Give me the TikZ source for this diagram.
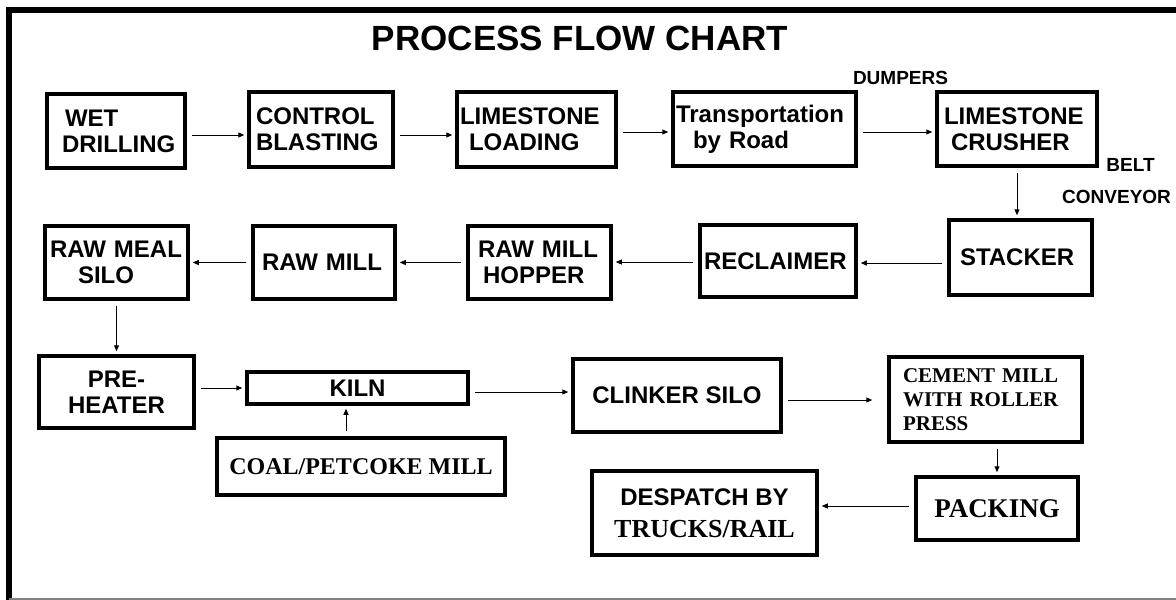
\documentclass[tikz,border=0pt]{standalone}
\usepackage{fontspec}
\setmainfont{Liberation Serif}
\setsansfont{Liberation Sans}
\usetikzlibrary{arrows.meta}

\begin{document}
\begin{tikzpicture}[x=1pt,y=-1pt,
		kasten/.style={draw,line width=3.5pt,inner sep=0pt,align=left,
			font=\sffamily\bfseries\fontsize{24}{26}\selectfont},
		serif/.style={font=\rmfamily\bfseries\fontsize{24}{27}\selectfont},
		beschr/.style={font=\sffamily\bfseries\fontsize{19}{22}\selectfont},
		pfeil/.style={line width=1pt,-{Triangle[length=6pt,width=5pt]},
			shorten <=5pt,shorten >=3pt}]
			\useasboundingbox (0,0) rectangle (1176,600);
			
			% Rahmen
			\draw[line width=6pt] (6,10) -- (1176,10);
			\draw[line width=6pt] (9,7) -- (9,600);
			\draw[gray,line width=1.5pt] (9,599) -- (1176,599);
			
			% Titel
			\node[font=\sffamily\bfseries\fontsize{35}{40}\selectfont] (titel) at (580,38) {PROCESS FLOW CHART};
			
			% Erste Reihe: Steinbruch bis Brecher
			\node[kasten,minimum width=138,minimum height=74,text width=108] (wet) at (116,131) {\hspace*{3pt}WET\\DRILLING};
			\node[kasten,minimum width=144,minimum height=75,text width=130] (blast) at (321,129.5) {CONTROL\\BLASTING};
			\node[kasten,minimum width=159,minimum height=75,text width=153] (load) at (536.5,129.5) {LIMESTONE\\\hspace*{9pt}LOADING};
			\node[kasten,minimum width=183,minimum height=74,text width=177] (road) at (764.5,129) {Transportation\\\hspace*{17pt}by Road};
			\node[kasten,minimum width=160,minimum height=74,text width=146] (crush) at (1017,129) {LIMESTONE\\\hspace*{7pt}CRUSHER};
			
			% Zweite Reihe: Halde bis Rohmehlsilo
			\node[kasten,minimum width=143,minimum height=75,text width=121] (stack) at (1020.5,257.5) {STACKER};
			\node[kasten,minimum width=156,minimum height=72,text width=148] (recl) at (778,261) {RECLAIMER};
			\node[kasten,minimum width=143,minimum height=73,text width=123] (hopper) at (539.5,262.5) {RAW MILL\\\hspace*{5pt}HOPPER};
			\node[kasten,minimum width=142,minimum height=73,text width=124] (rawmill) at (324,262.5) {RAW MILL};
			\node[kasten,minimum width=143,minimum height=73,text width=133] (meal) at (116.5,262.5) {RAW MEAL\\\hspace*{28pt}SILO};
			
			% Dritte Reihe: Vorwaermer bis Versand
			\node[kasten,align=center,minimum width=155,minimum height=72] (pre) at (116.5,392) {PRE-\\HEATER};
			\node[kasten,align=center,minimum width=221,minimum height=32] (kiln) at (357.5,388) {KILN};
			\node[kasten,align=center,minimum width=208,minimum height=73] (clinker) at (677,395.5) {CLINKER SILO};
			\node[kasten,serif,font=\rmfamily\bfseries\fontsize{21}{24}\selectfont,minimum width=193,minimum height=85,text width=165] (cement) at (985.5,399.5) {CEMENT MILL\\WITH ROLLER\\PRESS};
			\node[kasten,serif,align=center,minimum width=288,minimum height=57] (coal) at (361,466.5) {COAL/PETCOKE MILL};
			\node[kasten,serif,align=center,font=\rmfamily\bfseries\fontsize{27}{30}\selectfont,minimum width=162,minimum height=63] (pack) at (997,508.5) {PACKING};
			\node[kasten,align=center,font=\sffamily\bfseries\fontsize{24}{32}\selectfont,minimum width=225,minimum height=84] (desp) at (704.5,513) {DESPATCH BY\\{\rmfamily\fontsize{26}{32}\selectfont TRUCKS/RAIL}};
			
			% Beschriftungen
			\node[beschr] (dumpers) at (900.5,78) {DUMPERS};
			\node[beschr] (belt) at (1130.5,165) {BELT};
			\node[beschr,anchor=west,inner sep=0pt] (conveyor) at (1062,197) {CONVEYOR};
			
			% Pfeile
			\draw[pfeil] ([yshift=-4pt]wet.east) -- ([yshift=-4pt]wet.east -| blast.west);
			\draw[pfeil] ([yshift=-5.5pt]blast.east) -- ([yshift=-5.5pt]blast.east -| load.west);
			\draw[pfeil] ([yshift=-2.5pt]load.east) -- ([yshift=-2.5pt]load.east -| road.west);
			\draw[pfeil] ([yshift=-3pt]road.east) -- ([yshift=-3pt]road.east -| crush.west);
			\draw[pfeil] (crush.south) -- (crush.south |- stack.north);
			\draw[pfeil] ([yshift=-5.5pt]stack.west) -- ([yshift=-5.5pt]stack.west -| recl.east);
			\draw[pfeil] ([yshift=-1pt]recl.west) -- ([yshift=-1pt]recl.west -| hopper.east);
			\draw[pfeil] (hopper.west) -- (hopper.west -| rawmill.east);
			\draw[pfeil] (rawmill.west) -- (rawmill.west -| meal.east);
			\draw[pfeil] (meal.south) -- (meal.south |- pre.north);
			\draw[pfeil] (pre.east |- kiln.west) -- (kiln.west);
			\draw[pfeil] ([yshift=-4pt]kiln.east) -- ([yshift=-4pt]kiln.east -| clinker.west);
			\draw[pfeil,shorten >=15pt] ([yshift=-4.5pt]clinker.east) -- ([yshift=-4.5pt]clinker.east -| cement.west);
			\draw[pfeil] ([xshift=-15pt]coal.north) -- ([xshift=-15pt]coal.north |- kiln.south);
			\draw[pfeil] (pack.north |- cement.south) -- (pack.north);
			\draw[pfeil] ([yshift=2.5pt]pack.west) -- ([yshift=2.5pt]pack.west -| desp.east);
		\end{tikzpicture}
\end{document}
